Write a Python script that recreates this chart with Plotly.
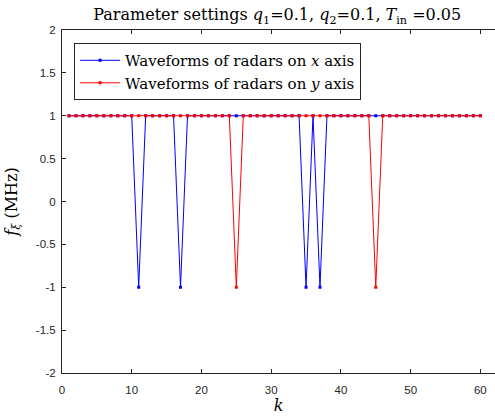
import plotly.graph_objects as go

# Slot index k and the frequency-hopping waveform values (MHz)
k = list(range(1, 61))
x_dips = [11, 17, 35, 37]   # slots where x-axis radars hop to -1 MHz
y_dips = [25, 45]           # slots where y-axis radars hop to -1 MHz
f_x = [-1 if i in x_dips else 1 for i in k]
f_y = [-1 if i in y_dips else 1 for i in k]

x_ticks = [0, 10, 20, 30, 40, 50, 60]
y_ticks = [-2, -1.5, -1, -0.5, 0, 0.5, 1, 1.5, 2]

axis_color = "#262626"
serif = "DejaVu Serif, Liberation Serif, serif"
sans = "Liberation Sans, Arial, Helvetica, sans-serif"

fig = go.Figure()
fig.add_trace(go.Scatter(
    x=k, y=f_x, mode="lines+markers",
    name="Waveforms of radars on <i>x</i> axis",
    line=dict(color="#0000FF", width=1),
    marker=dict(color="#0000FF", size=3, symbol="square"),
))
fig.add_trace(go.Scatter(
    x=k, y=f_y, mode="lines+markers",
    name="Waveforms of radars on <i>y</i> axis",
    line=dict(color="#FF0000", width=1),
    marker=dict(color="#FF0000", size=3, symbol="square"),
))

fig.update_layout(
    width=495, height=418,
    margin=dict(l=62, r=0, t=30, b=45),
    paper_bgcolor="white", plot_bgcolor="white",
    title=dict(
        text="Parameter settings <i>q</i><sub>1</sub>=0.1, <i>q</i><sub>2</sub>=0.1, "
             "<i>T</i><sub>in</sub> =0.05",
        x=0.56, xanchor="center", y=0.965, yanchor="middle",
        font=dict(family=serif, size=16, color="black"),
    ),
    showlegend=True,
    legend=dict(
        x=0.028, y=0.962, xanchor="left", yanchor="top",
        bgcolor="white", bordercolor=axis_color, borderwidth=1,
        font=dict(family=serif, size=15, color="black"),
        tracegroupgap=0, itemwidth=40,
    ),
    xaxis=dict(
        range=[0, 62.1], tickvals=x_ticks, ticktext=[str(v) for v in x_ticks],
        ticks="inside", ticklen=4, tickcolor=axis_color,
        showline=True, linecolor=axis_color, linewidth=1, mirror="ticks",
        showgrid=False, zeroline=False,
        tickfont=dict(family=sans, size=11.5, color=axis_color),
        ticklabelstandoff=6,
        title=dict(text="<i>k</i>", standoff=4,
                   font=dict(family=serif, size=16, color="black")),
    ),
    yaxis=dict(
        range=[-2, 2], tickvals=y_ticks, ticktext=[f"{v:g}" for v in y_ticks],
        ticks="inside", ticklen=4, tickcolor=axis_color,
        showline=True, linecolor=axis_color, linewidth=1, mirror=False,
        showgrid=False, zeroline=False,
        tickfont=dict(family=sans, size=11.5, color=axis_color),
        ticklabelstandoff=3,
        title=dict(text="<i>f</i><sub><i>ξ</i></sub> (MHz)", standoff=14,
                   font=dict(family=serif, size=16, color="black")),
    ),
    yaxis2=dict(
        range=[-2, 2], tickvals=y_ticks, overlaying="y", side="right",
        ticks="inside", ticklen=4, tickcolor=axis_color,
        showticklabels=False, showline=False, showgrid=False, zeroline=False,
    ),
)

fig.write_html("out.html")
